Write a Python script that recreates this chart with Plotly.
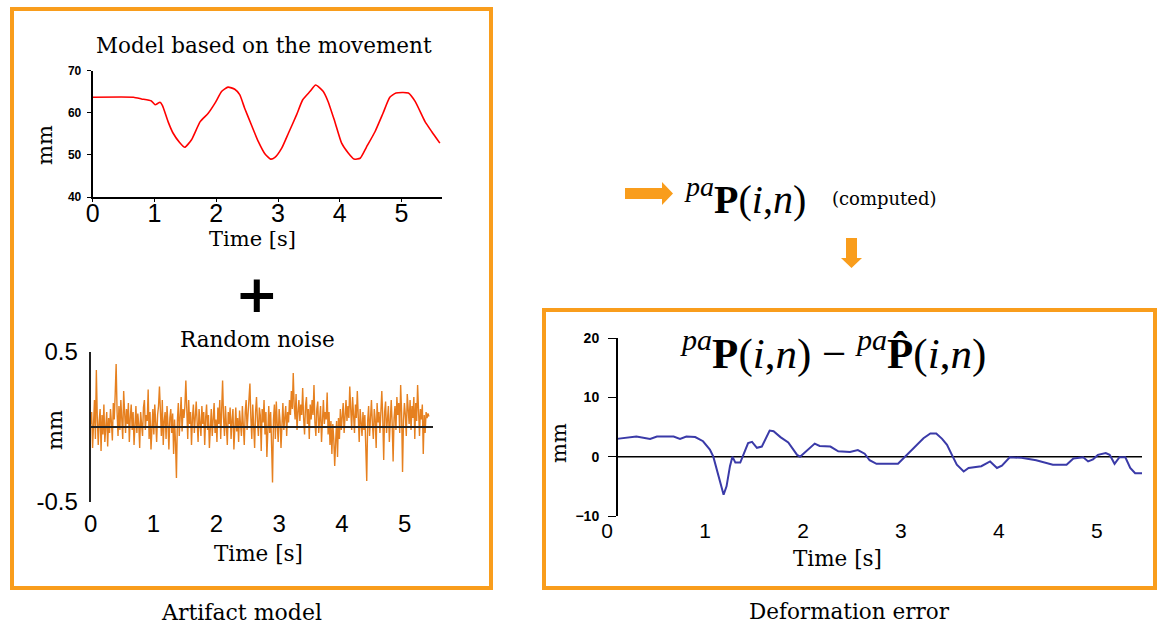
import numpy as np
import plotly.graph_objects as go

W, H = 1160, 627

# ---- data -------------------------------------------------------------
# movement model (mm) over time (s)
model_t = [0, 0.66, 0.79, 0.95, 1.01, 1.09, 1.13, 1.22, 1.30, 1.41,
           1.49, 1.60, 1.74, 1.87, 1.98, 2.09, 2.19, 2.30, 2.38, 2.46,
           2.57, 2.68, 2.79, 2.88, 2.95, 3.06, 3.17, 3.30, 3.40, 3.52,
           3.61, 3.73, 3.81, 3.92, 4.03, 4.14, 4.23, 4.33, 4.43, 4.57,
           4.70, 4.81, 4.91, 5.11, 5.22, 5.38, 5.49, 5.62]
model_mm = [63.7, 63.7, 63.3, 62.8, 61.9, 62.5, 61.7, 57.9, 55.2, 52.9,
            51.8, 53.6, 57.9, 59.9, 62.3, 65.1, 66.1, 65.6, 64.3, 61.1,
            57.1, 53.2, 50.2, 49.0, 49.4, 51.6, 55.2, 59.5, 63.1, 65.1,
            66.6, 65.1, 62.7, 57.9, 52.8, 50.4, 49.0, 49.2, 51.8, 55.5,
            59.9, 63.7, 64.7, 64.7, 62.7, 57.9, 55.5, 52.8]

# random noise (mm), sampled every 0.015 s
noise_dt = 0.015
noise_mm = [
    0.02, 0.10, -0.14, 0.05, 0.18, -0.08, 0.38, 0.06, -0.12, 0.04,
    0.12, -0.16, 0.08, -0.05, 0.15, -0.10, 0.02, 0.10, -0.13, 0.06,
    -0.04, 0.12, 0.03, -0.09, 0.16, 0.05, 0.22, 0.42, 0.10, -0.06,
    0.14, -0.02, 0.18, 0.06, -0.08, 0.24, 0.08, -0.04, 0.12, 0.02,
    0.16, -0.10, 0.06, 0.15, -0.02, 0.10, -0.12, 0.05, 0.14, -0.04,
    0.09, 0.02, -0.14, 0.10, 0.04, -0.06, 0.13, 0.18, -0.02, 0.08,
    0.04, 0.25, -0.08, 0.10, -0.15, 0.06, 0.12, -0.05, 0.15, 0.03,
    -0.10, 0.08, 0.14, 0.27, 0.05, -0.06, 0.18, -0.12, 0.04, 0.10,
    -0.08, 0.14, 0.02, -0.15, 0.06, 0.12, -0.04, 0.09, -0.18, 0.05,
    -0.10, -0.34, 0.04, 0.16, -0.06, 0.10, 0.20, -0.03, 0.12, 0.06,
    0.14, 0.31, 0.08, -0.08, 0.18, 0.02, 0.10, -0.12, 0.06, 0.15,
    -0.04, 0.08, 0.17, 0.03, -0.10, 0.12, 0.05, -0.06, 0.14, 0.02,
    0.10, -0.12, 0.06, 0.15, -0.02, 0.08, -0.14, 0.04, 0.12, -0.06,
    0.09, 0.16, -0.04, 0.05, -0.10, 0.13, 0.02, 0.18, -0.08, 0.11,
    0.31, 0.06, -0.06, 0.14, 0.04, -0.12, 0.10, 0.02, 0.13, -0.08,
    0.05, 0.12, -0.15, 0.08, 0.13, -0.03, 0.06, -0.10, 0.11, 0.02,
    -0.06, 0.14, 0.04, -0.12, 0.10, 0.18, -0.02, 0.08, 0.16, 0.29,
    0.06, -0.08, 0.15, 0.02, -0.14, 0.10, 0.20, 0.04, -0.06, 0.13,
    0.08, -0.16, 0.12, 0.03, 0.18, -0.05, 0.10, -0.20, 0.06, 0.14,
    -0.04, 0.10, -0.12, -0.37, 0.05, 0.15, -0.08, 0.17, 0.02, -0.10,
    0.12, 0.04, -0.14, 0.09, 0.16, -0.02, 0.06, 0.14, -0.06, 0.10,
    0.03, 0.18, 0.08, 0.24, 0.12, 0.36, 0.14, 0.05, 0.22, -0.02,
    0.10, 0.18, 0.04, 0.15, 0.08, 0.26, 0.06, -0.05, 0.14, 0.20,
    0.02, 0.12, -0.08, 0.15, 0.05, 0.18, 0.08, 0.28, 0.03, -0.06,
    0.12, 0.17, -0.04, 0.08, 0.14, -0.10, 0.06, 0.18, 0.02, 0.10,
    0.05, 0.23, -0.05, 0.10, -0.12, 0.04, -0.18, 0.02, -0.08, -0.26,
    -0.10, 0.04, -0.20, 0.06, -0.08, 0.12, -0.02, 0.08, 0.16, -0.04,
    0.10, 0.18, 0.04, 0.14, 0.06, 0.27, 0.12, -0.02, 0.20, 0.08,
    -0.04, 0.15, 0.06, 0.24, 0.02, -0.10, 0.12, 0.05, -0.06, 0.10,
    -0.02, 0.08, -0.12, -0.36, 0.04, 0.14, -0.06, 0.10, 0.18, 0.02,
    -0.08, 0.12, 0.05, -0.14, 0.16, 0.03, 0.10, -0.04, 0.15, 0.24,
    0.06, -0.22, 0.10, 0.17, -0.04, 0.08, 0.14, -0.10, 0.04, 0.18,
    0.02, -0.23, 0.06, 0.14, -0.02, 0.20, 0.08, 0.16, -0.04, 0.28,
    0.10, -0.30, 0.04, 0.16, 0.08, -0.06, 0.22, 0.12, 0.02, 0.18,
    -0.02, 0.14, 0.06, 0.20, -0.08, 0.16, 0.04, 0.28, 0.10, -0.06,
    0.12, 0.05, 0.15, -0.18, 0.08, -0.04, 0.10, 0.06, 0.09, 0.07,
]
noise_t = np.arange(len(noise_mm)) * noise_dt

# deformation error (mm)
err_t = [0.10, 0.30, 0.44, 0.51, 0.68, 0.745, 0.81, 0.90, 0.98, 1.05,
         1.085, 1.14, 1.19, 1.22, 1.255, 1.28, 1.31, 1.36, 1.39, 1.44,
         1.48, 1.53, 1.58, 1.63, 1.66, 1.70, 1.77, 1.85, 1.94, 1.97,
         2.04, 2.12, 2.17, 2.28, 2.36, 2.48, 2.56, 2.63, 2.68, 2.75,
         2.97, 3.06, 3.14, 3.23, 3.30, 3.36, 3.42, 3.47, 3.52, 3.57,
         3.64, 3.69, 3.82, 3.91, 3.98, 4.03, 4.11, 4.23, 4.38, 4.55,
         4.69, 4.76, 4.86, 4.91, 4.96, 5.01, 5.09, 5.13, 5.18, 5.23,
         5.29, 5.34, 5.39, 5.46]
err_mm = [3.0, 3.4, 3.0, 3.4, 3.4, 3.0, 3.4, 3.3, 2.6, 1.2,
          0.0, -3.3, -6.4, -5.0, -1.6, 0.0, -1.0, -1.0, 0.3, 2.3,
          2.5, 1.5, 1.7, 3.4, 4.4, 4.3, 3.3, 2.4, 0.3, 0.0,
          1.1, 2.2, 1.8, 1.7, 0.9, 0.8, 1.1, 0.5, -0.6, -1.2,
          -1.2, 0.3, 1.7, 3.1, 3.9, 3.9, 3.0, 2.0, 0.3, -1.35,
          -2.5, -1.9, -1.6, -0.8, -1.9, -1.5, -0.1, -0.2, -0.6, -1.35,
          -1.35, -0.3, -0.1, -0.8, -0.45, 0.3, 0.6, 0.3, -1.2, -0.1,
          -0.1, -1.9, -2.8, -2.8]

time_ticks = [0, 1, 2, 3, 4, 5]

# ---- helpers: pixel -> paper coordinates ------------------------------
def px(x):
    return x / W

def py(y):
    return 1 - y / H

ORANGE = "#F99D1C"
SERIF = "DejaVu Serif"
SANS = "Liberation Sans"
MATH = "Liberation Serif"

fig = go.Figure()

fig.add_trace(go.Scatter(x=model_t, y=model_mm, mode="lines",
                         line=dict(color="#FF0000", width=1.6, shape="spline", smoothing=0.5),
                         xaxis="x", yaxis="y", showlegend=False))
fig.add_trace(go.Scatter(x=noise_t, y=noise_mm, mode="lines",
                         line=dict(color="#E6801F", width=1.4),
                         xaxis="x2", yaxis="y2", showlegend=False))
fig.add_trace(go.Scatter(x=err_t, y=err_mm, mode="lines",
                         line=dict(color="#3A3AA8", width=2),
                         xaxis="x3", yaxis="y3", showlegend=False))

axis_common = dict(showgrid=False, zeroline=False, fixedrange=True, automargin=False)

layout = dict(
    width=W, height=H, autosize=False,
    margin=dict(l=0, r=0, t=0, b=0, pad=0, autoexpand=False),
    paper_bgcolor="white", plot_bgcolor="rgba(0,0,0,0)",
    showlegend=False,
    # movement model
    xaxis=dict(domain=[px(92.7), px(441.7)], range=[0, 5.65], anchor="y",
               tickvals=time_ticks, ticks="outside", ticklen=3, tickcolor="black",
               showline=True, linecolor="black", linewidth=2, ticklabelstandoff=-10,
               tickfont=dict(family=SANS, size=25, color="black"), **axis_common),
    yaxis=dict(domain=[py(197), py(70.7)], range=[40, 70], anchor="x",
               tickvals=[40, 50, 60, 70], ticks="outside", ticklen=4, tickcolor="black",
               showline=True, linecolor="black", linewidth=2, ticklabelstandoff=3,
               tickfont=dict(family=SANS, size=12, color="black", weight="bold"),
               **axis_common),
    # random noise
    xaxis2=dict(domain=[px(90.7), px(433)], range=[0, 5.45], anchor="y2",
                tickvals=time_ticks, ticks="", showline=False, ticklabelstandoff=5,
                tickfont=dict(family=SANS, size=24, color="black"), **axis_common),
    yaxis2=dict(domain=[py(502), py(352)], range=[-0.5, 0.5], anchor="x2",
                tickvals=[-0.5, 0.5], ticktext=["-0.5", "0.5"], ticks="",
                showline=True, linecolor="#222", linewidth=2, ticklabelstandoff=6,
                tickfont=dict(family=SANS, size=24, color="black"), **axis_common),
    # deformation error
    xaxis3=dict(domain=[px(607), px(1142)], range=[0, 5.46], anchor="y3",
                tickvals=time_ticks, ticks="", showline=False,
                tickfont=dict(family=SANS, size=21, color="black"), **axis_common),
    yaxis3=dict(domain=[py(516), py(338)], range=[-10, 20], anchor="free",
                position=px(617),
                tickvals=[-10, 0, 10, 20], ticks="outside", ticklen=8, tickcolor="black",
                showline=True, linecolor="black", linewidth=2, ticklabelstandoff=6,
                tickfont=dict(family=SANS, size=14, color="black", weight="bold"),
                **axis_common),
)
fig.update_layout(**layout)

# ---- reference lines at zero -----------------------------------------
shapes = [
    dict(type="line", xref="x2", yref="y2", x0=0, x1=5.45, y0=0, y1=0,
         line=dict(color="#222", width=2), layer="above"),
    dict(type="line", xref="x3", yref="y3", x0=err_t[0], x1=5.46, y0=0, y1=0,
         line=dict(color="black", width=1.5), layer="below"),
    # frames
    dict(type="rect", xref="paper", yref="paper",
         x0=px(12), x1=px(491), y0=py(588), y1=py(9),
         line=dict(color=ORANGE, width=4)),
    dict(type="rect", xref="paper", yref="paper",
         x0=px(544), x1=px(1155), y0=py(588), y1=py(310),
         line=dict(color=ORANGE, width=4)),
]

# flow arrows
def path(points):
    return "M " + " L ".join(f"{px(x)},{py(y)}" for x, y in points) + " Z"

shapes.append(dict(type="path", xref="paper", yref="paper",
                   path=path([(625, 188), (662, 188), (662, 182), (673, 193.5),
                              (662, 205), (662, 199), (625, 199)]),
                   fillcolor=ORANGE, line=dict(width=0)))
shapes.append(dict(type="path", xref="paper", yref="paper",
                   path=path([(846, 238), (857, 238), (857, 258), (862, 258),
                              (851.5, 268), (841, 258), (846, 258)]),
                   fillcolor=ORANGE, line=dict(width=0)))
fig.update_layout(shapes=shapes)

# ---- text -------------------------------------------------------------
def label(text, x, y, size, family=SERIF, xanchor="center", yanchor="middle",
          angle=0, color="black"):
    fig.add_annotation(text=text, x=px(x), y=py(y), xref="paper", yref="paper",
                       xanchor=xanchor, yanchor=yanchor, showarrow=False,
                       textangle=angle, font=dict(family=family, size=size, color=color))

label("Model based on the movement", 264, 46, 21.5)
label("Time [s]", 252, 239, 21)
label("mm", 45, 145, 21, angle=-90)
label("<b>+</b>", 257, 294, 52, family="DejaVu Sans")
label("Random noise", 257, 339, 21.5)
label("Time [s]", 258, 553, 21.5)
label("mm", 55, 430, 21, angle=-90)
label("Artifact model", 241, 612, 22)

label("<sup><i>pa</i></sup><b>P</b>(<i>i</i>,<i>n</i>)", 682, 196, 40,
      family=MATH, xanchor="left")
label("(computed)", 830, 199, 18, xanchor="left")

label("<sup><i>pa</i></sup><b>P</b>(<i>i</i>,<i>n</i>) \u2212 "
      "<sup><i>pa</i></sup><b>P\u0302</b>(<i>i</i>,<i>n</i>)",
      678, 350, 43, family=MATH, xanchor="left")
label("Time [s]", 838, 558, 21.5)
label("mm", 559, 443, 21, angle=-90)
label("Deformation error", 849, 611, 21.5)

fig.write_html("out.html")
